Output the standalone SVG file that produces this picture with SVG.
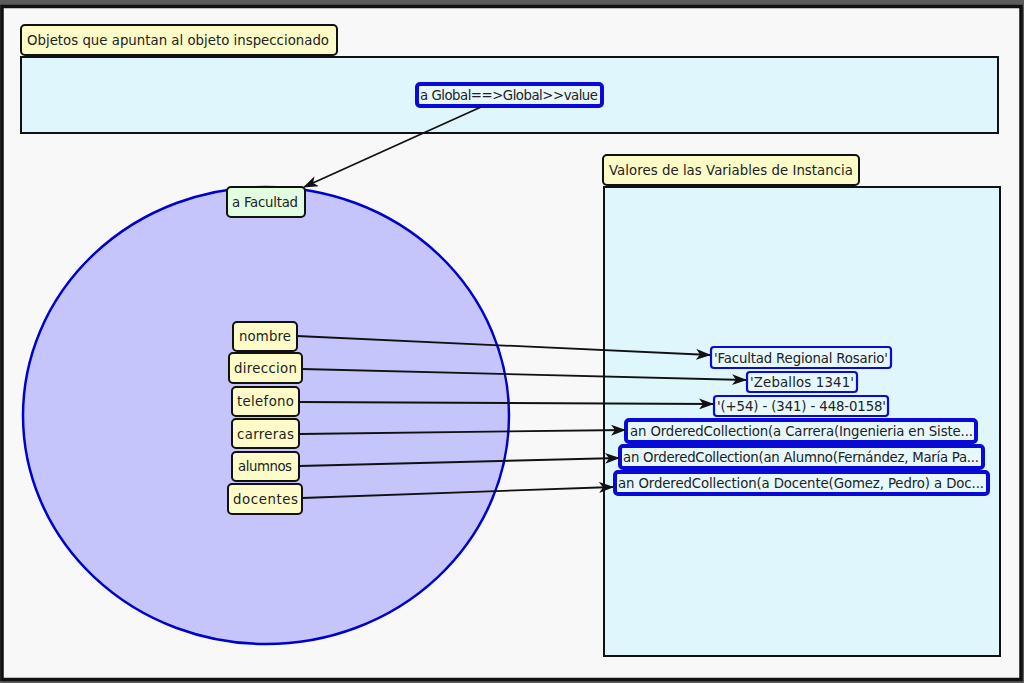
<svg xmlns="http://www.w3.org/2000/svg" width="1024" height="683" viewBox="0 0 1024 683">
<style>
  text { font-family: "DejaVu Sans", "Liberation Sans", sans-serif; font-size: 13.3px; fill: #222; }
  .pane { fill: #dff7fc; stroke: #111; stroke-width: 2; }
  .label { fill: #fdfcc8; stroke: #111; stroke-width: 2; }
  .slot { fill: #fdfcc8; stroke: #111; stroke-width: 2; }
  .val { fill: #e6f8fc; stroke: #0a0ad8; stroke-width: 2.2; }
  .valb { fill: #e6f8fc; stroke: #0a0ad8; stroke-width: 4; }
  .conn { stroke: #111; stroke-width: 1.8; fill: none; marker-end: url(#arr); }
</style>
<defs>
  <marker id="arr" markerUnits="userSpaceOnUse" viewBox="0 0 15 11" refX="14" refY="5.5" markerWidth="15" markerHeight="11" orient="auto">
    <path d="M0,0 L15,5.5 L0,11 L4,5.5 z" fill="#111"/>
  </marker>
</defs>
<rect x="0" y="0" width="1024" height="683" fill="#5c5c5c"/>
<rect x="2" y="6.5" width="1019" height="673" fill="#f8f8f8" stroke="#111" stroke-width="3.5"/>

<g id="referencing-pane">
  <rect class="pane" x="21" y="57" width="977" height="76"/>
  <rect class="label" x="21" y="25" width="316" height="30" rx="4"/>
  <text x="27" y="45" textLength="302">Objetos que apuntan al objeto inspeccionado</text>
</g>

<g id="values-pane">
  <rect class="pane" x="604" y="187" width="396" height="469"/>
  <rect class="label" x="603" y="155" width="256" height="30" rx="4"/>
  <text x="609" y="175" textLength="244">Valores de las Variables de Instancia</text>
</g>

<g id="object-ellipse">
  <ellipse cx="266" cy="415.5" rx="243" ry="228.5" fill="#c5c5fb" stroke="#0000cc" stroke-width="2.5"/>
</g>

<g id="node-global">
  <rect class="valb" x="417" y="84" width="185" height="22" rx="3"/>
  <text x="420" y="100" textLength="178">a Global==&gt;Global&gt;&gt;value</text>
</g>

<g id="node-facultad">
  <rect x="227" y="187" width="78" height="30" rx="4" fill="#e2fde0" stroke="#111" stroke-width="2"/>
  <text x="232" y="207" textLength="66">a Facultad</text>
</g>

<g id="slot-nombre">
  <rect class="slot" x="233" y="322" width="64" height="29" rx="4"/>
  <text x="239" y="341" textLength="52">nombre</text>
</g>
<g id="slot-direccion">
  <rect class="slot" x="229" y="353" width="73" height="30" rx="4"/>
  <text x="234" y="373" textLength="63">direccion</text>
</g>
<g id="slot-telefono">
  <rect class="slot" x="232" y="387" width="67" height="29" rx="4"/>
  <text x="237" y="406" textLength="57">telefono</text>
</g>
<g id="slot-carreras">
  <rect class="slot" x="232" y="419" width="67" height="29" rx="4"/>
  <text x="237" y="439" textLength="57">carreras</text>
</g>
<g id="slot-alumnos">
  <rect class="slot" x="232" y="452" width="67" height="29" rx="4"/>
  <text x="238" y="471" textLength="54">alumnos</text>
</g>
<g id="slot-docentes">
  <rect class="slot" x="228" y="484" width="74" height="30" rx="4"/>
  <text x="233" y="504" textLength="65">docentes</text>
</g>

<g id="val-nombre">
  <rect class="val" x="711" y="347" width="180" height="21" rx="3"/>
  <text x="714" y="363" textLength="174">'Facultad Regional Rosario'</text>
</g>
<g id="val-direccion">
  <rect class="val" x="747" y="372" width="110" height="20" rx="3"/>
  <text x="750" y="387" textLength="104">'Zeballos 1341'</text>
</g>
<g id="val-telefono">
  <rect class="val" x="714" y="396" width="174" height="20" rx="3"/>
  <text x="717" y="411" textLength="169">'(+54) - (341) - 448-0158'</text>
</g>
<g id="val-carreras">
  <rect class="valb" x="626" y="420" width="350" height="22" rx="3"/>
  <text x="630" y="436" textLength="343">an OrderedCollection(a Carrera(Ingenieria en Siste...</text>
</g>
<g id="val-alumnos">
  <rect class="valb" x="620" y="446" width="363" height="22" rx="3"/>
  <text x="623" y="462" textLength="356">an OrderedCollection(an Alumno(Fernández, María Pa...</text>
</g>
<g id="val-docentes">
  <rect class="valb" x="615" y="472" width="373" height="22" rx="3"/>
  <text x="618" y="488" textLength="366">an OrderedCollection(a Docente(Gomez, Pedro) a Doc...</text>
</g>

<g id="connectors">
  <line class="conn" x1="481" y1="107" x2="304" y2="187"/>
  <line class="conn" x1="297" y1="336" x2="710" y2="355"/>
  <line class="conn" x1="302" y1="369" x2="746" y2="380"/>
  <line class="conn" x1="299" y1="402" x2="713" y2="404"/>
  <line class="conn" x1="299" y1="434" x2="625" y2="430"/>
  <line class="conn" x1="299" y1="466" x2="619" y2="458"/>
  <line class="conn" x1="302" y1="498" x2="613" y2="487"/>
</g>
</svg>
